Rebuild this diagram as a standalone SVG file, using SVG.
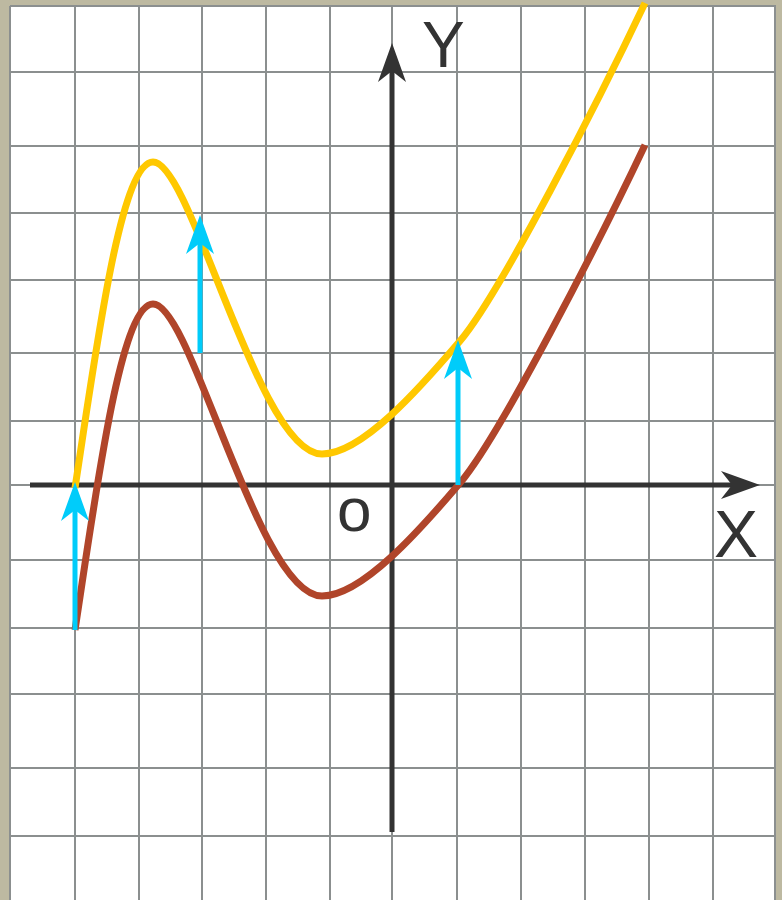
<svg xmlns="http://www.w3.org/2000/svg" width="782" height="900" viewBox="0 0 782 900">
  <style>
    .grid line { stroke: #8b8f8f; stroke-width: 2; }
    .axis { stroke: #333333; stroke-width: 5; fill: none; }
    .head-dark { fill: #333333; }
    .head-cyan { fill: #00ccfa; }
    .shaft { stroke: #00ccfa; stroke-width: 5; }
    .curve { fill: none; stroke-width: 7; stroke-linecap: butt; stroke-linejoin: round; }
    .lbl { font-family: "Liberation Sans", Arial, sans-serif; fill: #333333; }
  </style>
  <defs>
    <path id="head" d="M0,0 L-14,39 L0,28 L14,39 Z"/>
    <path id="curveShape" d="M75,630 C95,500 120,304 153,304 C192,304 258,596 322,596 C362,596 420,530 460,483 C500,436 600,240 645,145"/>
  </defs>

  <rect x="0" y="0" width="782" height="900" fill="#bdb9a1"/>
  <rect x="10" y="6" width="766" height="894" fill="#ffffff"/>

  <g id="grid" class="grid">
    <line x1="10" y1="6" x2="10" y2="900"/>
    <line x1="75" y1="6" x2="75" y2="900"/>
    <line x1="139" y1="6" x2="139" y2="900"/>
    <line x1="202" y1="6" x2="202" y2="900"/>
    <line x1="266" y1="6" x2="266" y2="900"/>
    <line x1="330" y1="6" x2="330" y2="900"/>
    <line x1="392" y1="6" x2="392" y2="900"/>
    <line x1="457" y1="6" x2="457" y2="900"/>
    <line x1="521" y1="6" x2="521" y2="900"/>
    <line x1="585" y1="6" x2="585" y2="900"/>
    <line x1="649" y1="6" x2="649" y2="900"/>
    <line x1="713" y1="6" x2="713" y2="900"/>
    <line x1="775" y1="6" x2="775" y2="900"/>
    <line x1="10" y1="6" x2="776" y2="6"/>
    <line x1="10" y1="72" x2="776" y2="72"/>
    <line x1="10" y1="146" x2="776" y2="146"/>
    <line x1="10" y1="213" x2="776" y2="213"/>
    <line x1="10" y1="280" x2="776" y2="280"/>
    <line x1="10" y1="353" x2="776" y2="353"/>
    <line x1="10" y1="421" x2="776" y2="421"/>
    <line x1="10" y1="485" x2="776" y2="485"/>
    <line x1="10" y1="560" x2="776" y2="560"/>
    <line x1="10" y1="628" x2="776" y2="628"/>
    <line x1="10" y1="694" x2="776" y2="694"/>
    <line x1="10" y1="768" x2="776" y2="768"/>
    <line x1="10" y1="836" x2="776" y2="836"/>
  </g>

  <g id="axes">
    <line class="axis" x1="30" y1="485" x2="740" y2="485"/>
    <use href="#head" class="head-dark" transform="translate(760,485) rotate(90)"/>
    <line class="axis" x1="392" y1="832" x2="392" y2="65"/>
    <use href="#head" class="head-dark" transform="translate(392,43)"/>
  </g>

  <g id="curves">
    <use href="#curveShape" class="curve" stroke="#b0452a"/>
    <use href="#curveShape" class="curve" stroke="#ffc800" transform="translate(0,-142)"/>
  </g>

  <g id="connectors">
    <line class="shaft" x1="75" y1="630" x2="75" y2="505"/>
    <use href="#head" class="head-cyan" transform="translate(75,482)"/>
    <line class="shaft" x1="200" y1="353" x2="200" y2="238"/>
    <use href="#head" class="head-cyan" transform="translate(200,215)"/>
    <line class="shaft" x1="458" y1="485" x2="458" y2="363"/>
    <use href="#head" class="head-cyan" transform="translate(458,340)"/>
  </g>

  <g id="labels">
    <text class="lbl" x="422" y="67" font-size="64">Y</text>
    <text class="lbl" x="714" y="557" font-size="66">X</text>
    <text class="lbl" x="337" y="531" font-size="62">o</text>
  </g>
</svg>
